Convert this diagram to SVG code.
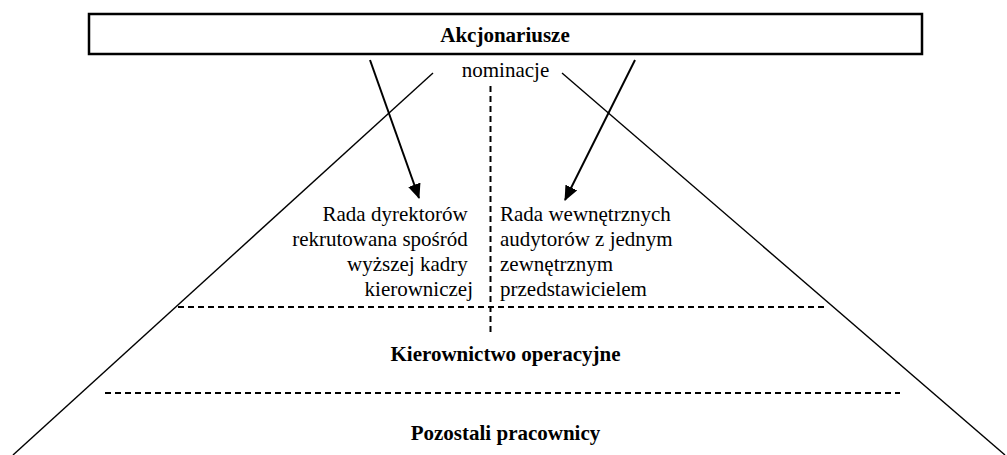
<svg xmlns="http://www.w3.org/2000/svg" width="1007" height="455" viewBox="0 0 1007 455">
<style>
.t{font-family:"Liberation Serif","Times New Roman",serif;font-size:21px;fill:#000}
.b{font-weight:bold}
.ln{stroke:#000;stroke-width:1.4;fill:none}
.ar{stroke:#000;stroke-width:2;fill:none}
.ds{stroke:#000;stroke-width:2;fill:none;stroke-dasharray:6,4}
</style>
<defs>
<marker id="ah" viewBox="0 0 15 13" refX="14" refY="6.5" markerWidth="15" markerHeight="13" markerUnits="userSpaceOnUse" orient="auto">
<path d="M0,0 L15,6.5 L0,13 z" fill="#000"/>
</marker>
</defs>
<rect width="1007" height="455" fill="#fff"/>
<g id="pyramid">
<line class="ln" x1="433" y1="73" x2="13" y2="455"/>
<line class="ln" x1="562" y1="73" x2="1005" y2="455"/>
</g>
<g id="akcjonariusze">
<rect x="89" y="14" width="833" height="40" fill="#fff" stroke="#000" stroke-width="2.5"/>
<text class="t b" x="505" y="42" text-anchor="middle">Akcjonariusze</text>
</g>
<g id="connectors">
<line class="ar" x1="370" y1="60" x2="419" y2="198" marker-end="url(#ah)"/>
<line class="ar" x1="635" y1="60" x2="565" y2="200" marker-end="url(#ah)"/>
<line class="ds" x1="490.5" y1="86" x2="490.5" y2="336" stroke-dasharray="6,3.5"/>
<line class="ds" x1="178" y1="307" x2="828" y2="307"/>
<line class="ds" x1="105" y1="393" x2="900" y2="393"/>
</g>
<g id="nominacje">
<text class="t" x="505.5" y="77" text-anchor="middle">nominacje</text>
</g>
<g id="rada-dyrektorow">
<text class="t" text-anchor="end">
<tspan x="473" y="221">Rada dyrektorów</tspan>
<tspan x="473" y="246">rekrutowana spośród</tspan>
<tspan x="473" y="271">wyższej kadry</tspan>
<tspan x="473" y="296">kierowniczej</tspan>
</text>
</g>
<g id="rada-audytorow">
<text class="t">
<tspan x="500" y="221">Rada wewnętrznych</tspan>
<tspan x="500" y="246">audytorów z jednym</tspan>
<tspan x="500" y="271">zewnętrznym</tspan>
<tspan x="500" y="296">przedstawicielem</tspan>
</text>
</g>
<g id="kierownictwo">
<text class="t b" x="505.5" y="361" text-anchor="middle">Kierownictwo operacyjne</text>
</g>
<g id="pozostali">
<text class="t b" x="505.5" y="440" text-anchor="middle">Pozostali pracownicy</text>
</g>
</svg>
